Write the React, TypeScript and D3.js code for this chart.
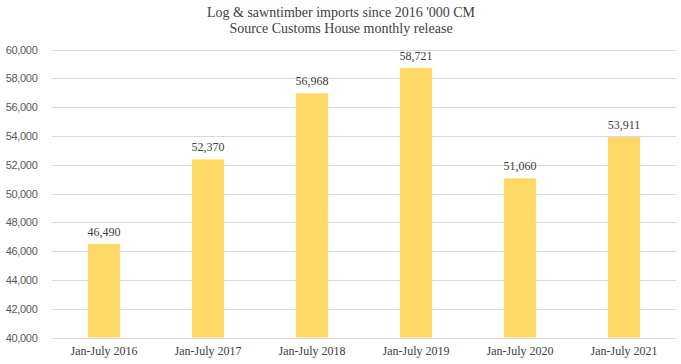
import React from "react";
import * as d3 from "d3";

const categories = ["Jan-July 2016", "Jan-July 2017", "Jan-July 2018", "Jan-July 2019", "Jan-July 2020", "Jan-July 2021"];
const values = [46490, 52370, 56968, 58721, 51060, 53911];
const yTicks = [40000, 42000, 44000, 46000, 48000, 50000, 52000, 54000, 56000, 58000, 60000];
const titleLines = ["Log & sawntimber imports since 2016 '000 CM", "Source Customs House monthly release"];

const W = 681, H = 364;
const left = 52, right = 676, top = 49.5, bottom = 337.5;
const font = "'Liberation Serif', 'Times New Roman', serif";
const sans = "'Liberation Sans', Arial, sans-serif";

export default function App() {
  const x = d3.scaleBand<string>().domain(categories).range([left, right]).paddingInner(0.69).paddingOuter(0.345);
  const y = d3.scaleLinear().domain([40000, 60000]).range([bottom, top]);
  const fmt = d3.format(",");
  return (
    <svg width={W} height={H} style={{ position: "absolute", left: 0, top: 0, background: "#fff" }}>
      {titleLines.map((t, i) => (
        <text key={i} x={341} y={17 + i * 15.5} textAnchor="middle" fontFamily={font} fontSize={14} fill="#404040">{t}</text>
      ))}
      {yTicks.map((t) => (
        <g key={t}>
          <line x1={left} x2={right} y1={Math.round(y(t)) + 0.5} y2={Math.round(y(t)) + 0.5} stroke="#d9d9d9" strokeWidth={1} />
          <text x={37.5} y={y(t) + 4} textAnchor="end" fontFamily={sans} fontSize={11} letterSpacing={-0.3} fill="#595959">{fmt(t)}</text>
        </g>
      ))}
      {categories.map((c, i) => (
        <g key={c}>
          <rect x={x(c)} y={y(values[i])} width={x.bandwidth()} height={y(40000) - y(values[i])} fill="#FFD966" />
          <text x={(x(c) as number) + x.bandwidth() / 2} y={y(values[i]) - 8} textAnchor="middle" fontFamily={font} fontSize={12} fill="#404040">{fmt(values[i])}</text>
          <text x={(x(c) as number) + x.bandwidth() / 2} y={355} textAnchor="middle" fontFamily={font} fontSize={12} fill="#404040">{c}</text>
        </g>
      ))}
    </svg>
  );
}
